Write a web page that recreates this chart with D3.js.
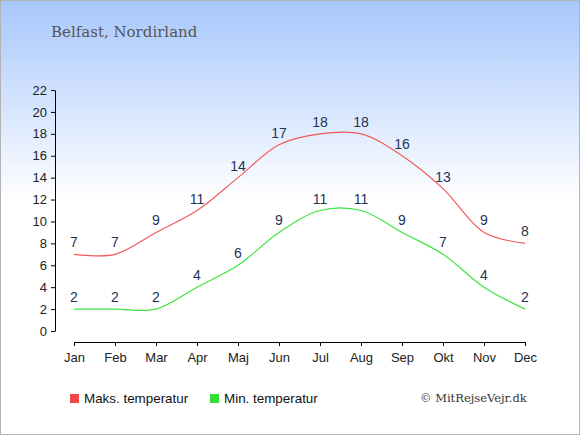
<!DOCTYPE html>
<html lang="da">
<head>
<meta charset="UTF-8">
<title>Belfast, Nordirland</title>
<script src="https://d3js.org/d3.v7.min.js"></script>
<style>
  body { margin: 0; }
  svg { display: block; }
</style>
</head>
<body>
<script>
// data
const months = ["Jan", "Feb", "Mar", "Apr", "Maj", "Jun", "Jul", "Aug", "Sep", "Okt", "Nov", "Dec"];
const maxTemp = [7, 7, 9, 11, 14, 17, 18, 18, 16, 13, 9, 8];
const minTemp = [2, 2, 2, 4, 6, 9, 11, 11, 9, 7, 4, 2];
const yTicks = [0, 2, 4, 6, 8, 10, 12, 14, 16, 18, 20, 22];

const width = 580, height = 435;

const svg = d3.select("body").append("svg")
    .attr("width", width)
    .attr("height", height);

const grad = svg.append("defs").append("linearGradient")
    .attr("id", "bg").attr("x1", 0).attr("y1", 0).attr("x2", 0).attr("y2", 1);
grad.append("stop").attr("offset", "0%").attr("stop-color", "#a7c7fc");
grad.append("stop").attr("offset", "46%").attr("stop-color", "#ffffff");
grad.append("stop").attr("offset", "100%").attr("stop-color", "#ffffff");

svg.append("rect")
    .attr("x", 0.5).attr("y", 0.5)
    .attr("width", width - 1).attr("height", height - 1)
    .attr("fill", "url(#bg)")
    .attr("stroke", "#b3b3b3");

svg.append("text")
    .attr("x", 51).attr("y", 37)
    .attr("font-family", "'DejaVu Serif', 'Liberation Serif', serif")
    .attr("font-size", 15)
    .attr("fill", "#555")
    .text("Belfast, Nordirland");

const x = d3.scalePoint().domain(months).range([74, 525]);
const y = d3.scaleLinear().domain([0, 22]).range([331, 90]);

// y axis
const yAxis = svg.append("g")
    .attr("transform", "translate(55,0)")
    .call(d3.axisLeft(y).tickValues(yTicks).tickSize(4).tickSizeOuter(0));

// x axis
const xAxis = svg.append("g")
    .attr("transform", "translate(0,342)")
    .call(d3.axisBottom(x).tickSize(4).tickSizeOuter(0));

[yAxis, xAxis].forEach(g => {
    g.select(".domain").attr("stroke", "#000");
    g.selectAll(".tick line").attr("stroke", "#000");
    g.selectAll(".tick text")
        .attr("font-family", "'Liberation Sans', Arial, sans-serif")
        .attr("font-size", 13)
        .attr("fill", "#222");
});
yAxis.selectAll(".tick text").attr("dx", "-1");
xAxis.selectAll(".tick text").attr("dy", "1.0em");

const line = d3.line()
    .x((d, i) => x(months[i]))
    .y(d => y(d))
    .curve(d3.curveCatmullRom.alpha(0.5));

const series = [
    { values: maxTemp, color: "#f25a5a" },
    { values: minTemp, color: "#3ee63e" }
];

series.forEach(s => {
    svg.append("path")
        .datum(s.values)
        .attr("fill", "none")
        .attr("stroke", s.color)
        .attr("stroke-width", 1.2)
        .attr("d", line);

    svg.append("g").selectAll("text")
        .data(s.values)
        .join("text")
        .attr("x", (d, i) => x(months[i]))
        .attr("y", d => y(d) - 7)
        .attr("text-anchor", "middle")
        .attr("font-family", "'Liberation Sans', Arial, sans-serif")
        .attr("font-size", 14)
        .attr("fill", "#1f3355")
        .text(d => d);
});

// legend
const legend = [
    { label: "Maks. temperatur", color: "#f04848", x: 70 },
    { label: "Min. temperatur", color: "#33e033", x: 210 }
];
legend.forEach(l => {
    svg.append("rect")
        .attr("x", l.x).attr("y", 394)
        .attr("width", 9).attr("height", 9)
        .attr("fill", l.color);
    svg.append("text")
        .attr("x", l.x + 14).attr("y", 403)
        .attr("font-family", "'Liberation Sans', Arial, sans-serif")
        .attr("font-size", 13.4)
        .attr("fill", "#111")
        .text(l.label);
});

svg.append("text")
    .attr("x", 420).attr("y", 402)
    .attr("font-family", "'DejaVu Serif', 'Liberation Serif', serif")
    .attr("font-size", 11.5)
    .attr("fill", "#333")
    .text("© MitRejseVejr.dk");
</script>
</body>
</html>
